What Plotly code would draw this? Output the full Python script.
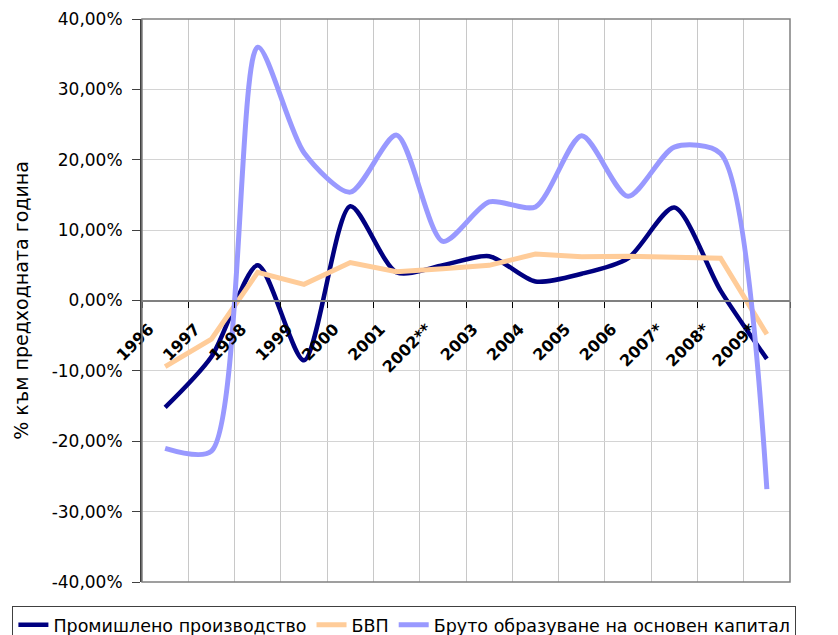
import plotly.graph_objects as go

years = ["1996", "1997", "1998", "1999", "2000", "2001", "2002**", "2003",
         "2004", "2005", "2006", "2007*", "2008*", "2009*"]
industry = [-15.2, -8.0, 5.0, -8.5, 13.4, 4.0, 5.0, 6.3, 2.7, 3.8, 6.0, 13.2, 1.4, -8.3]
gdp = [-9.4, -5.5, 4.0, 2.3, 5.4, 4.1, 4.5, 5.0, 6.6, 6.2, 6.3, 6.2, 6.0, -4.8]
gfcf = [-21.0, -21.4, 36.0, 21.0, 15.4, 23.5, 8.4, 14.0, 13.3, 23.4, 14.8, 21.8, 20.9, -26.8]

y_tickvals = [-40, -30, -20, -10, 0, 10, 20, 30, 40]
y_ticktext = ["-40,00%", "-30,00%", "-20,00%", "-10,00%", "0,00%",
              "10,00%", "20,00%", "30,00%", "40,00%"]

names = ["Промишлено производство", "БВП", "Бруто образуване на основен капитал"]

fig = go.Figure()
fig.add_trace(go.Scatter(x=years, y=industry, name=names[0], mode="lines",
                         line=dict(color="#000080", width=4.5, shape="spline", smoothing=0.75)))
fig.add_trace(go.Scatter(x=years, y=gdp, name=names[1], mode="lines",
                         line=dict(color="#FFCC99", width=5)))
fig.add_trace(go.Scatter(x=years, y=gfcf, name=names[2], mode="lines",
                         line=dict(color="#9999FF", width=5, shape="spline", smoothing=0.75)))

# page shows the figure offset by ~7px (body margin), so size accordingly
fig.update_layout(
    width=831, height=628,
    margin=dict(l=134, r=49, t=11, b=54, autoexpand=False),
    plot_bgcolor="white", paper_bgcolor="white",
    showlegend=True,
    legend=dict(orientation="h", x=-0.20, y=-0.0426, xanchor="left", yanchor="top",
                bordercolor="#404040", borderwidth=1, bgcolor="white",
                font=dict(family="DejaVu Sans", size=17.5, color="black"),
                tracegroupgap=0),
)
fig.update_xaxes(
    type="category", range=[-0.5, len(years) - 0.5],
    anchor="free", position=0.5, automargin=False,
    showline=True, linecolor="#808080", linewidth=2,
    ticks="outside", tickson="boundaries", ticklen=6, tickcolor="black", tickwidth=1,
    tickangle=-45, ticklabelstandoff=12, ticklabelshift=-16,
    showgrid=True, gridcolor="#c8c8c8", gridwidth=1,
    tickfont=dict(family="DejaVu Sans", size=16, color="black", weight="bold"),
)
fig.update_yaxes(
    range=[-40, 40], tickvals=y_tickvals, ticktext=y_ticktext, automargin=False,
    showline=True, linecolor="#404040", linewidth=2,
    ticks="outside", ticklen=8, tickcolor="#404040",
    showgrid=True, gridcolor="#d4d4d4", gridwidth=1, zeroline=False,
    tickfont=dict(family="DejaVu Sans", size=17, color="black"),
    ticklabelstandoff=6,
    title=dict(text="% към предходната година", standoff=18,
               font=dict(family="DejaVu Sans", size=19, color="black")),
)
fig.add_shape(type="rect", xref="x domain", yref="y domain", x0=0, x1=1, y0=0, y1=1,
              line=dict(color="#808080", width=1.5), layer="above")

fig.write_html("out.html")
